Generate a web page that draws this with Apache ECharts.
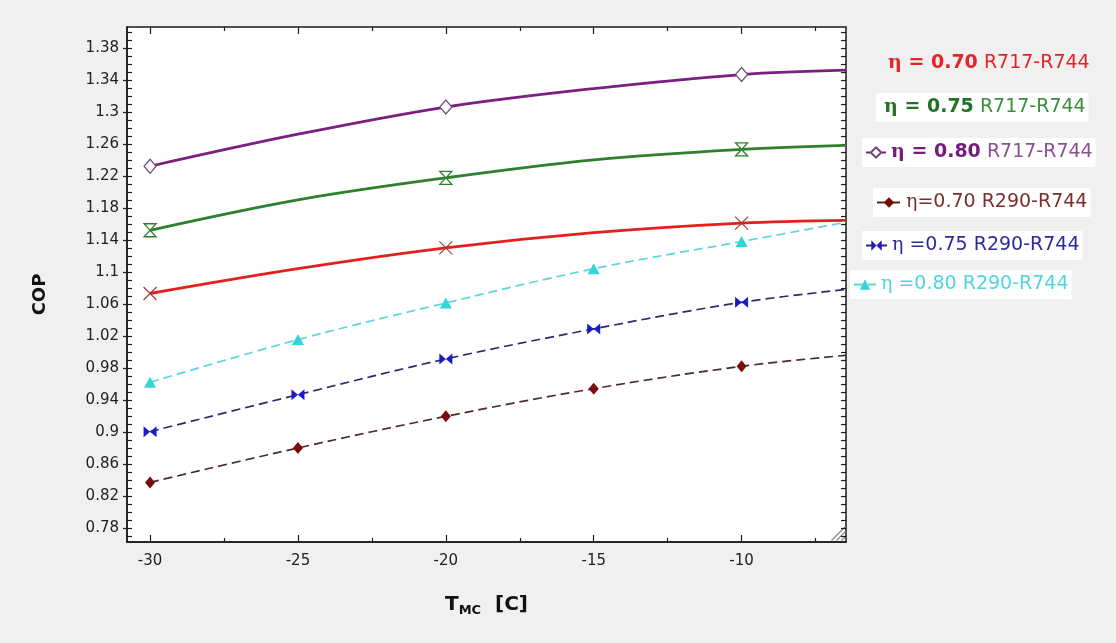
<!DOCTYPE html>
<html>
<head>
<meta charset="utf-8">
<title>COP vs T_MC</title>
<script src="https://cdn.jsdelivr.net/npm/echarts@6/dist/echarts.min.js"></script>
<style>
  html, body { margin: 0; padding: 0; background: #f0f0f0; }
  #chart { width: 1116px; height: 643px; }
</style>
</head>
<body>
<div id="chart"></div>
<script>
// Temperature points (°C) where each curve is sampled; the last one is the right edge of the plot
const tempPoints = [-30, -25, -20, -15, -10, -6.47];
// Temperatures that carry a marker on the solid (R717-R744) curves
const solidMarkedTemps = [-30, -20, -10];
// Temperatures that carry a marker on the dashed (R290-R744) curves
const dashedMarkedTemps = [-30, -25, -20, -15, -10];

// COP values
const copR717_070 = [1.073, 1.104, 1.130, 1.149, 1.161, 1.1645];
const copR717_075 = [1.152, 1.190, 1.2175, 1.240, 1.253, 1.258];
const copR717_080 = [1.232, 1.272, 1.306, 1.329, 1.3466, 1.352];
const copR290_070 = [0.837, 0.880, 0.9195, 0.9541, 0.982, 0.9958];
const copR290_075 = [0.9004, 0.9466, 0.9912, 1.0288, 1.062, 1.078];
const copR290_080 = [0.962, 1.0154, 1.0612, 1.104, 1.138, 1.162];

// Axis ticks
const xRange = [-30.78, -6.47];
const xMajorTicks = [-30, -25, -20, -15, -10];
const xMinorTicks = [-27.5, -22.5, -17.5, -12.5, -7.5];
const yRange = [0.7625, 1.406];
const yMajorTicks = [0.78, 0.82, 0.86, 0.9, 0.94, 0.98, 1.02, 1.06, 1.1, 1.14, 1.18, 1.22, 1.26, 1.3, 1.34, 1.38];

// every 0.01 between the range limits, used for the fine tick marks
const yAllTicks = [];
for (let k = 77; k <= 140; k++) yAllTicks.push(k / 100);

const FONT = '"DejaVu Sans", "Liberation Sans", Arial, sans-serif';
const SERIF = '"DejaVu Serif", "Liberation Serif", serif';

const names = {
  r717_070: 'η = 0.70 R717-R744',
  r717_075: 'η = 0.75 R717-R744',
  r717_080: 'η = 0.80 R717-R744',
  r290_070: 'η=0.70 R290-R744',
  r290_075: 'η =0.75 R290-R744',
  r290_080: 'η =0.80 R290-R744'
};

// marker shapes
const crossPath = 'path://M0,0L10,10M10,0L0,10';
const hourglassPath = 'path://M0,0L10,0L0,10L10,10Z';
const bowtiePath = 'path://M0,0L10,10L10,0L0,10Z';

function buildData(values, marked) {
  return tempPoints.map((t, i) => {
    const item = { value: [t, values[i]] };
    if (marked.indexOf(t) < 0) item.symbol = 'none';
    return item;
  });
}

function solidSeries(name, values, color, symbol, symbolSize, itemStyle) {
  return {
    name: name, type: 'line', smooth: 0.35, showAllSymbol: true,
    data: buildData(values, solidMarkedTemps),
    symbol: symbol, symbolSize: symbolSize,
    lineStyle: { color: color, width: 2.8 },
    itemStyle: itemStyle,
    z: 3
  };
}

function dashedSeries(name, values, lineColor, symbol, symbolSize, markColor) {
  return {
    name: name, type: 'line', smooth: 0.35, showAllSymbol: true,
    data: buildData(values, dashedMarkedTemps),
    symbol: symbol, symbolSize: symbolSize,
    lineStyle: { color: lineColor, width: 1.7, type: [9, 5] },
    itemStyle: { color: markColor },
    z: 2
  };
}

const series = [
  solidSeries(names.r717_070, copR717_070, '#e2201c', crossPath, 13,
    { color: 'rgba(0,0,0,0)', borderColor: '#9a3b3b', borderWidth: 1.1 }),
  solidSeries(names.r717_075, copR717_075, '#2e7f2e', hourglassPath, [12, 13],
    { color: '#ffffff', borderColor: '#2e7f2e', borderWidth: 1.3 }),
  solidSeries(names.r717_080, copR717_080, '#7b1f80', 'diamond', [12, 14],
    { color: '#ffffff', borderColor: '#6e4a70', borderWidth: 1.2 }),
  dashedSeries(names.r290_070, copR290_070, '#4a2c2c', 'diamond', [10, 12], '#7b0a0a'),
  dashedSeries(names.r290_075, copR290_075, '#2c2c66', bowtiePath, [13, 11], '#1a1ac8'),
  dashedSeries(names.r290_080, copR290_080, '#5cd6dc', 'triangle', [12, 11], '#33d6d6')
];

// one legend box per entry, each placed on its own row
function legendEntry(name, left, top, cfg) {
  return {
    data: [name], left: left, top: top, orient: 'horizontal',
    selectedMode: false,
    padding: [4, 3],
    backgroundColor: cfg.box ? '#ffffff' : 'transparent',
    icon: cfg.icon,
    itemWidth: cfg.itemWidth, itemHeight: 13, itemGap: cfg.itemGap,
    formatter: () => cfg.text,
    textStyle: {
      fontFamily: FONT, fontSize: 19, lineHeight: 21,
      rich: {
        eb: { fontFamily: SERIF, fontWeight: 'bold', fontSize: 19, color: cfg.strong },
        b: { fontFamily: FONT, fontWeight: 'bold', fontSize: 19, color: cfg.strong },
        e: { fontFamily: SERIF, fontSize: 19, color: cfg.plain },
        n: { fontFamily: FONT, fontSize: 19, color: cfg.plain }
      }
    }
  };
}

const legends = [
  legendEntry(names.r717_070, 880, 49, { box: false, icon: 'none', itemWidth: 0, itemGap: 0,
    strong: '#e5232a', plain: '#e5232a', text: '{eb|η}{b| = 0.70}{n| R717-R744}' }),
  legendEntry(names.r717_075, 876, 93, { box: true, icon: 'none', itemWidth: 0, itemGap: 0,
    strong: '#247224', plain: '#3a8f3a', text: '{eb|η}{b| = 0.75}{n| R717-R744}' }),
  legendEntry(names.r717_080, 862, 138, { box: true, itemWidth: 20, itemGap: 1,
    strong: '#761c7c', plain: '#8a4f90', text: '{eb|η}{b| = 0.80}{n| R717-R744}' }),
  legendEntry(names.r290_070, 873, 188, { box: true, itemWidth: 24, itemGap: 3,
    strong: '#7a2e2e', plain: '#7a2e2e', text: '{e|η}{n|=0.70 R290-R744}' }),
  legendEntry(names.r290_075, 862, 231, { box: true, itemWidth: 21, itemGap: 2,
    strong: '#2b2b9c', plain: '#2b2b9c', text: '{e|η}{n| =0.75 R290-R744}' }),
  legendEntry(names.r290_080, 850, 270, { box: true, itemWidth: 22, itemGap: 2,
    strong: '#4fd6dc', plain: '#4fd6dc', text: '{e|η}{n| =0.80 R290-R744}' })
];

const axisColor = '#1a1a1a';

function tickAxis(position, range, ticks, len, inside) {
  return {
    type: 'value', position: position, min: range[0], max: range[1],
    axisLine: { show: false },
    axisLabel: { show: false },
    splitLine: { show: false },
    axisTick: { show: true, inside: inside, length: len, customValues: ticks,
      lineStyle: { color: axisColor, width: 1.2 } }
  };
}

const option = {
  animation: false,
  backgroundColor: '#f0f0f0',
  textStyle: { fontFamily: FONT },
  grid: {
    left: 127, right: 270, top: 27, bottom: 101,
    show: true, backgroundColor: '#ffffff', borderColor: axisColor, borderWidth: 1.5
  },
  legend: legends,
  xAxis: [
    {
      type: 'value', position: 'bottom', min: xRange[0], max: xRange[1],
      axisLine: { show: true, lineStyle: { color: axisColor, width: 1.5 } },
      axisTick: { show: true, inside: true, length: 7, customValues: xMajorTicks,
        lineStyle: { color: axisColor, width: 1.2 } },
      axisLabel: { customValues: xMajorTicks, color: '#222', fontSize: 15, margin: 12, fontFamily: FONT },
      splitLine: { show: false },
      name: '{t|T}{s|MC}{t|  [C]}',
      nameLocation: 'middle', nameGap: 50,
      nameTextStyle: {
        rich: {
          t: { fontFamily: FONT, fontWeight: 'bold', fontSize: 20, color: '#111' },
          s: { fontFamily: FONT, fontWeight: 'bold', fontSize: 13, color: '#111', padding: [12, 0, 0, 0] }
        }
      }
    },
    tickAxis('bottom', xRange, xMinorTicks, 4, true),
    tickAxis('top', xRange, xMajorTicks, 7, true),
    tickAxis('top', xRange, xMinorTicks, 4, true)
  ],
  yAxis: [
    {
      type: 'value', position: 'left', min: yRange[0], max: yRange[1],
      axisLine: { show: true, lineStyle: { color: axisColor, width: 1.5 } },
      axisTick: { show: true, inside: false, length: 4, customValues: yMajorTicks,
        lineStyle: { color: axisColor, width: 1.2 } },
      axisLabel: { customValues: yMajorTicks, color: '#222', fontSize: 15, margin: 8, fontFamily: FONT },
      splitLine: { show: false },
      name: 'COP', nameLocation: 'middle', nameGap: 78, nameRotate: 90,
      nameTextStyle: { fontFamily: FONT, fontWeight: 'bold', fontSize: 18, color: '#111', padding: [0, 20, 0, 0] }
    },
    tickAxis('left', yRange, yAllTicks, 5, true),
    tickAxis('right', yRange, yAllTicks, 5, true)
  ],
  graphic: [
    {
      type: 'group', left: 829, top: 524, silent: true,
      children: [
        { type: 'line', shape: { x1: 0, y1: 14, x2: 14, y2: 0 }, style: { stroke: '#8a8a8a', lineWidth: 1.3 } },
        { type: 'line', shape: { x1: 5, y1: 14, x2: 14, y2: 5 }, style: { stroke: '#8a8a8a', lineWidth: 1.3 } },
        { type: 'line', shape: { x1: 10, y1: 14, x2: 14, y2: 10 }, style: { stroke: '#8a8a8a', lineWidth: 1.3 } }
      ]
    }
  ],
  series: series
};

const chart = echarts.init(document.getElementById('chart'), null, { renderer: 'canvas' });
chart.setOption(option);
</script>
</body>
</html>
